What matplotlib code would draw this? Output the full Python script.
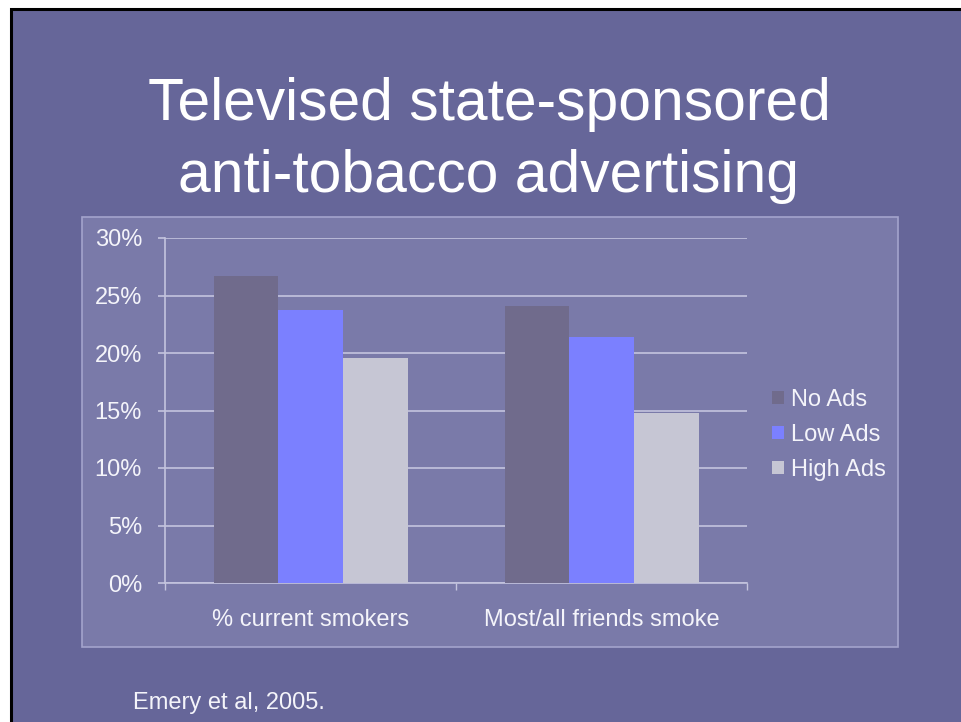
import matplotlib.pyplot as plt
from matplotlib.patches import Rectangle

plt.rcParams['font.family'] = ['Liberation Sans', 'DejaVu Sans']

# Data (Emery et al, 2005)
categories = ['% current smokers', 'Most/all friends smoke']
series_names = ['No Ads', 'Low Ads', 'High Ads']
no_ads = [26.7, 24.1]
low_ads = [23.7, 21.4]
high_ads = [19.6, 14.8]
yticks = [0, 5, 10, 15, 20, 25, 30]

W, H = 961, 722
slide_bg = '#666699'
panel_bg = '#7a7aa9'
text_col = '#f4f4fa'
grid_col = '#c4c4de'
bar_colors = ['#706b8c', '#7b80ff', '#c6c6d4']

fig = plt.figure(figsize=(W / 100, H / 100), dpi=100)
fig.patch.set_facecolor('white')

# slide background with black frame on top/left
fig.patches.append(Rectangle((11 / W, -0.05), 1.1, 1 - 8.5 / H + 0.05,
                             transform=fig.transFigure, facecolor=slide_bg,
                             edgecolor='black', lw=2.2, zorder=0))
# chart panel
fig.patches.append(Rectangle((82 / W, 1 - 647 / H), (898 - 82) / W, (647 - 217) / H,
                             transform=fig.transFigure, facecolor=panel_bg,
                             edgecolor='#a4a4cc', lw=1.2, zorder=0))

# title
fig.text(489 / W, 1 - 120 / H, 'Televised state-sponsored', ha='center', va='baseline',
         fontsize=42.3, color='white')
fig.text(489 / W, 1 - 192 / H, 'anti-tobacco advertising', ha='center', va='baseline',
         fontsize=42.3, color='white')

ax = fig.add_axes([165 / W, 1 - 583 / H, (747 - 165) / W, (583 - 238) / H])
ax.set_facecolor('none')
ax.set_zorder(5)

width = 1 / 4.5
x = [0, 1]
for i, (vals, name) in enumerate(zip([no_ads, low_ads, high_ads], series_names)):
    pos = [xi + (i - 1) * width for xi in x]
    ax.bar(pos, vals, width=width, color=bar_colors[i], label=name, zorder=3)

ax.set_xlim(-0.5, 1.5)
ax.set_ylim(0, 30)
ax.set_yticks(yticks)
ax.set_yticklabels([f'{t}%' for t in yticks])
ax.yaxis.grid(True, color=grid_col, lw=1.2, zorder=0)
ax.set_axisbelow(True)

ax.set_xticks([-0.5, 0.5, 1.5])
ax.set_xticklabels([])
ax.tick_params(axis='x', length=5, width=1, color=grid_col, direction='out')
ax.tick_params(axis='y', length=5, width=1.2, color=grid_col, labelsize=17,
               labelcolor=text_col, pad=11.5)
for s in ['top', 'right']:
    ax.spines[s].set_visible(False)
for s in ['left', 'bottom']:
    ax.spines[s].set_color(grid_col)
    ax.spines[s].set_linewidth(1.2)

for xi, cat in zip(x, categories):
    ax.text(xi, -3.2, cat, ha='center', va='center', fontsize=17, color=text_col,
            transform=ax.transData)

leg = ax.legend(loc='center left', bbox_to_anchor=(763 / W, 1 - 435 / H),
                bbox_transform=fig.transFigure, frameon=False, fontsize=17,
                handlelength=0.47, handleheight=0.47, handletextpad=0.3,
                labelspacing=0.55, borderaxespad=0)
for t in leg.get_texts():
    t.set_color(text_col)

fig.text(133 / W, 1 - 709 / H, 'Emery et al, 2005.', ha='left', va='baseline',
         fontsize=17, color=text_col)

fig.savefig('out.png', dpi=100, facecolor=fig.get_facecolor())
